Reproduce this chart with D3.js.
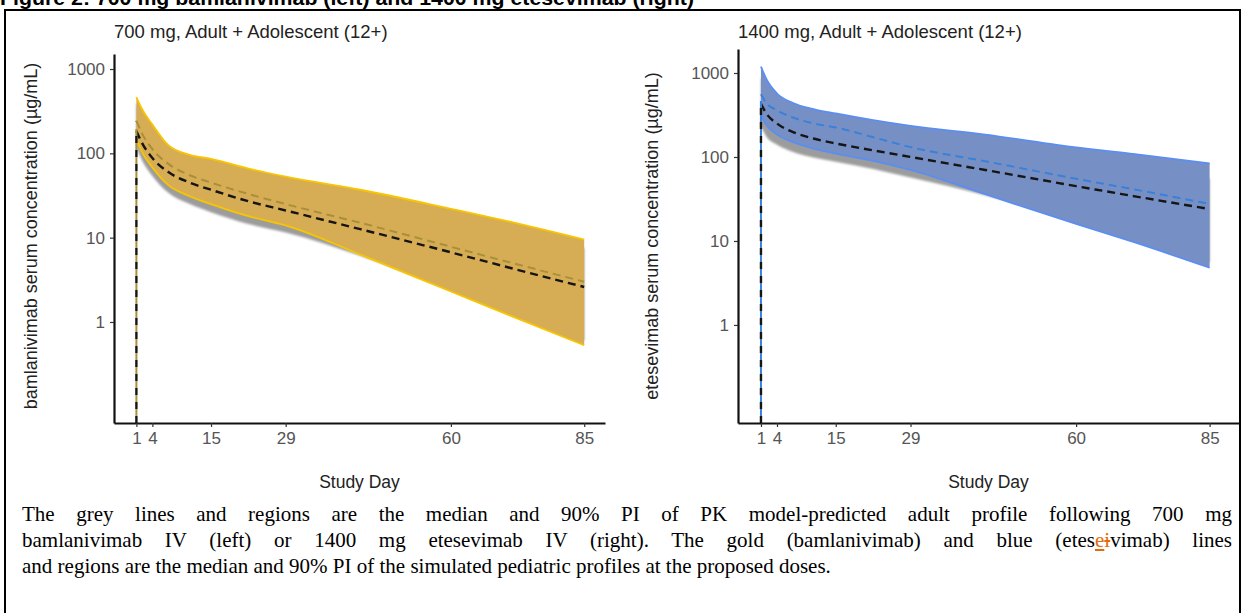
<!DOCTYPE html>
<html>
<head>
<meta charset="utf-8">
<script src="https://cdn.jsdelivr.net/npm/d3@7"></script>
<style>
  body { margin: 0; background: #fff; }
  svg { display: block; }
  .tick text { font-family: "Liberation Sans", Arial, sans-serif; font-size: 17px; fill: #555; }
  .tick line { stroke: #333; stroke-width: 1.2; }
  .domain { stroke: #111; stroke-width: 2.2; }
  #pie { position: absolute; left: 22px; top: 501px; width: 1210px;
         font-family: "Liberation Serif", "Times New Roman", serif; font-size: 21px; line-height: 26px; }
  #pie div.just { text-align: justify; text-align-last: justify; }
  .ins { color: #e36c0a; text-decoration: underline; }
  .del { color: #e36c0a; text-decoration: line-through; }
</style>
</head>
<body>
<svg id="fig" width="1244" height="613"></svg>
<script>
// dias de estudio (eje x)
const dias = [1, 2, 4, 7, 11, 15, 22, 29, 43, 60, 71, 85]
const ticksX = [1, 4, 15, 29, 60, 85]
const ticksY = [1, 10, 100, 1000]

// 700 mg bamlanivimab: adulto (gris) y pediatrico (dorado)
const bamAdultoMed = [184, 135, 88, 60, 45, 37, 27, 21, 12.6, 6.7, 4.4, 2.6]
const bamAdultoLo = [118, 84, 54, 34, 25, 20, 14.5, 11.5, 6.1, 2.4, 1.3, 0.6]
const bamAdultoHi = [400, 290, 190, 110, 85, 75, 57, 45, 30, 18, 12, 7.5]
const bamPedMed = [243, 175, 112, 75, 55, 45, 33, 25, 15, 7.8, 5.1, 3.0]
const bamPedLo = [147, 105, 68, 42, 31, 25, 18, 14, 6.3, 2.3, 1.2, 0.53]
const bamPedHi = [465, 340, 220, 125, 96, 86, 66, 53, 37, 22, 15.5, 9.5]

// 1400 mg etesevimab: adulto (gris) y pediatrico (azul)
const eteAdultoMed = [430, 330, 250, 198, 165, 145, 120, 100, 70, 45, 34, 24]
const eteAdultoLo = [230, 175, 140, 115, 98, 88, 72, 57, 35, 17, 10.5, 5.5]
const eteAdultoHi = [900, 650, 450, 350, 300, 270, 220, 190, 140, 95, 75, 55]
const etePedMed = [560, 440, 360, 295, 250, 225, 172, 131, 89, 55, 41, 27.6]
const etePedLo = [310, 240, 185, 150, 125, 110, 90, 70, 36, 16, 9.6, 4.8]
const etePedHi = [1190, 850, 570, 440, 370, 330, 275, 235, 185, 130, 108, 84]

const svg = d3.select('#fig')

// filtro suave para la banda gris
svg.append('defs').append('filter').attr('id', 'suave')
    .append('feGaussianBlur').attr('stdDeviation', 0.8)

// titulo de la figura, cortado arriba como en el original
svg.append('text')
    .attr('x', 0).attr('y', 5)
    .attr('textLength', 694).attr('lengthAdjust', 'spacingAndGlyphs')
    .style('font-family', '"Liberation Sans", Arial, sans-serif')
    .style('font-weight', 'bold').style('font-size', '21px')
    .text('Figure 2: 700 mg bamlanivimab (left) and 1400 mg etesevimab (right)')

// marco
svg.append('rect')
    .attr('x', 5).attr('y', 10).attr('width', 1235).attr('height', 640)
    .attr('fill', 'none').attr('stroke', '#000').attr('stroke-width', 2)

function filas(med, lo, hi) {
    return dias.map(function (d, i) {
        return { dia: d, med: med[i], lo: lo[i], hi: hi[i] }
    })
}

function panel(cfg) {
    const x = d3.scaleLinear().domain(cfg.dominioX).range(cfg.rangoX)
    const y = d3.scaleLog().domain(cfg.dominioY).range(cfg.rangoY)
    const g = svg.append('g')

    const banda = d3.area()
        .x(function (d) { return x(d.dia) })
        .y0(function (d) { return y(d.lo) })
        .y1(function (d) { return y(d.hi) })
        .curve(d3.curveMonotoneX)
    const linea = function (campo) {
        return d3.line()
            .x(function (d) { return x(d.dia) })
            .y(function (d) { return y(d[campo]) })
            .curve(d3.curveMonotoneX)
    }

    // banda adulto
    g.append('path').datum(cfg.adulto)
        .attr('d', banda).attr('fill', '#9c9c9c').attr('filter', 'url(#suave)')
    // banda pediatrica
    g.append('path').datum(cfg.ped)
        .attr('d', banda).attr('fill', cfg.relleno)
    g.append('path').datum(cfg.ped)
        .attr('d', linea('hi')).attr('fill', 'none')
        .attr('stroke', cfg.borde).attr('stroke-width', 1.8)
    g.append('path').datum(cfg.ped)
        .attr('d', linea('lo')).attr('fill', 'none')
        .attr('stroke', cfg.borde).attr('stroke-width', 1.8)

    // medianas (con la subida vertical en el dia 1)
    const y0 = cfg.rangoY[0]
    const series = [
        { datos: cfg.adulto, color: '#151515', ancho: 2.4, offset: 0 },
        { datos: cfg.ped, color: cfg.mediana, ancho: 2, offset: 7 }
    ]
    series.forEach(function (s) {
        const x1 = x(s.datos[0].dia)
        g.append('path')
            .attr('d', d3.line()([[x1, y0], [x1, y(s.datos[0].med)]]))
            .attr('fill', 'none').attr('stroke', s.color).attr('stroke-width', s.ancho)
            .attr('stroke-dasharray', '7,7').attr('stroke-dashoffset', s.offset)
        g.append('path').datum(s.datos)
            .attr('d', linea('med')).attr('fill', 'none')
            .attr('stroke', s.color).attr('stroke-width', s.ancho)
            .attr('stroke-dasharray', '8,5')
    })

    // ejes
    g.append('g')
        .attr('transform', 'translate(' + cfg.rangoX[0] + ',0)')
        .call(d3.axisLeft(y).tickValues(ticksY).tickFormat(d3.format('d'))
            .tickSize(4).tickSizeOuter(0).tickPadding(5))
    g.append('g')
        .attr('transform', 'translate(0,' + y0 + ')')
        .call(d3.axisBottom(x).tickValues(ticksX).tickFormat(d3.format('d'))
            .tickSize(4).tickSizeOuter(0).tickPadding(5))

    // textos
    g.append('text')
        .attr('x', cfg.rangoX[0]).attr('y', 38)
        .style('font-family', '"Liberation Sans", Arial, sans-serif')
        .style('font-size', '18.5px').attr('fill', '#222')
        .text(cfg.titulo)
    g.append('text')
        .attr('x', (cfg.rangoX[0] + cfg.rangoX[1]) / 2).attr('y', 488)
        .attr('text-anchor', 'middle')
        .style('font-family', '"Liberation Sans", Arial, sans-serif')
        .style('font-size', '17.5px').attr('fill', '#222')
        .text('Study Day')
    g.append('text')
        .attr('transform', 'translate(' + cfg.xTituloY + ',236) rotate(-90)')
        .attr('text-anchor', 'middle')
        .style('font-family', '"Liberation Sans", Arial, sans-serif')
        .style('font-size', '18px').attr('fill', '#222')
        .text(cfg.tituloY)
}

panel({
    titulo: '700 mg, Adult + Adolescent (12+)',
    tituloY: 'bamlanivimab serum concentration (\u00b5g/mL)',
    xTituloY: 37,
    dominioX: [-3.2, 88.9], rangoX: [114, 605],
    dominioY: [0.0634, 1507], rangoY: [423, 54],
    adulto: filas(bamAdultoMed, bamAdultoLo, bamAdultoHi),
    ped: filas(bamPedMed, bamPedLo, bamPedHi),
    relleno: '#d6ad55', borde: '#f7c600', mediana: '#a88f3a'
})

panel({
    titulo: '1400 mg, Adult + Adolescent (12+)',
    tituloY: 'etesevimab serum concentration (\u00b5g/mL)',
    xTituloY: 658,
    dominioX: [-3.3, 90.5], rangoX: [738, 1239],
    dominioY: [0.068, 1931], rangoY: [423, 49],
    adulto: filas(eteAdultoMed, eteAdultoLo, eteAdultoHi),
    ped: filas(etePedMed, etePedLo, etePedHi),
    relleno: '#7690c5', borde: '#5b8ef0', mediana: '#3a80d8'
})

// pie de figura (texto justificado)
const pie = d3.select('body').append('div').attr('id', 'pie')
pie.append('div').attr('class', 'just')
    .text('The grey lines and regions are the median and 90% PI of PK model-predicted adult profile following 700 mg')
pie.append('div').attr('class', 'just')
    .html('bamlanivimab IV (left) or 1400 mg etesevimab IV (right). The gold (bamlanivimab) and blue (etes' +
        '<span class="ins">e</span><span class="del">i</span>vimab) lines')
pie.append('div')
    .text('and regions are the median and 90% PI of the simulated pediatric profiles at the proposed doses.')
</script>
</body>
</html>
